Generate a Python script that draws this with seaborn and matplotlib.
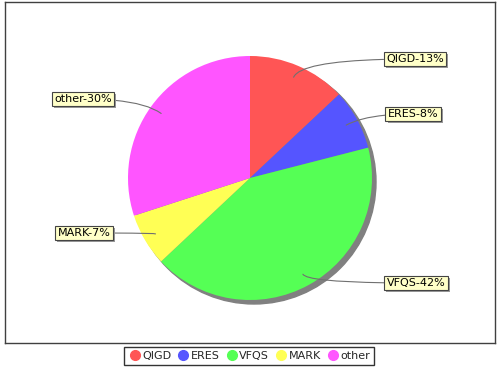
import numpy as np
import matplotlib
matplotlib.use("Agg")
import matplotlib.pyplot as plt
import matplotlib.patheffects as pe
from matplotlib.lines import Line2D
from matplotlib.patches import Circle
import seaborn as sns

categories = ["QIGD", "ERES", "VFQS", "MARK", "other"]
shares = [13, 8, 42, 7, 30]
colors = ["#FF5555", "#5555FF", "#55FF55", "#FFFF55", "#FF55FF"]
label_pos = [(415, 311), (413, 256), (416, 87), (84, 137), (83, 271)]  # label centres, pixel coords (y up)

sns.set_theme(style="white")
plt.rcParams['font.family'] = ['DejaVu Sans']

W, H = 500, 370
fig = plt.figure(figsize=(W / 100, H / 100), dpi=100)
fig.patch.set_facecolor("white")

x0, x1, y0, y1 = 5, 495, 370 - 343, 370 - 2
ax = fig.add_axes([x0 / W, y0 / H, (x1 - x0) / W, (y1 - y0) / H])

cx, cy, r = 250, 192, 122
ax.add_patch(Circle((cx + 4, cy - 4), r, color="#808080", zorder=1))
wedges, _ = ax.pie(shares, colors=colors, startangle=90, counterclock=False,
                   center=(cx, cy), radius=r, frame=True,
                   wedgeprops=dict(linewidth=0, zorder=2))
ax.set_xlim(x0, x1)
ax.set_ylim(y0, y1)
ax.set_aspect("auto")
ax.set_xticks([])
ax.set_yticks([])
for s in ax.spines.values():
    s.set_visible(True)
    s.set_color("#404040")
    s.set_linewidth(1)

total = sum(shares)
cum = 0
for cat, val, (lx, ly) in zip(categories, shares, label_pos):
    mid = (cum + val / 2) / total * 360
    cum += val
    ang = np.deg2rad(90 - mid)
    px = cx + 0.9 * r * np.cos(ang)
    py = cy + 0.9 * r * np.sin(ang)
    pct = round(val / total * 100)
    t = ax.annotate(f"{cat}-{pct}%", xy=(px, py), xytext=(lx, ly),
                    ha="center", va="center", fontsize=8, color="black",
                    bbox=dict(boxstyle="square,pad=0.2", fc="#FFFFC8", ec="#444444", lw=0.8),
                    arrowprops=dict(arrowstyle="-", color="#707070", lw=0.8,
                                    connectionstyle=f"angle3,angleA=0,angleB={np.rad2deg(ang)}",
                                    shrinkA=0, shrinkB=0),
                    zorder=5)
    t.get_bbox_patch().set_path_effects([pe.SimplePatchShadow(offset=(1.5, -1.5), shadow_rgbFace="#999999", alpha=1), pe.Normal()])

handles = [Line2D([], [], marker="o", linestyle="none", markersize=7,
                  markerfacecolor=c, markeredgecolor=c) for c in colors]
leg = fig.legend(handles, categories, loc="center", bbox_to_anchor=(249 / W, 1 - 356 / H),
                 ncol=5, fontsize=8, frameon=True, fancybox=False,
                 handletextpad=0.1, columnspacing=0.45, handlelength=1.2,
                 borderpad=0.35, borderaxespad=0)
leg.get_frame().set_edgecolor("black")
leg.get_frame().set_linewidth(1)

fig.savefig("out.png", dpi=100, facecolor="white")
